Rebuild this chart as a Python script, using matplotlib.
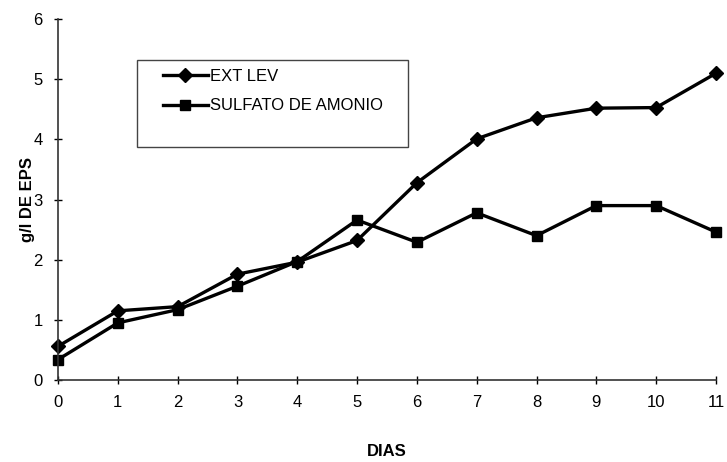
import numpy as np
import matplotlib
matplotlib.use('Agg')
import matplotlib.pyplot as plt
from matplotlib.patches import Rectangle

plt.rcParams['font.family'] = ['Liberation Sans', 'DejaVu Sans']

dias = [0, 1, 2, 3, 4, 5, 6, 7, 8, 9, 10, 11]
ext_lev = [0.56, 1.15, 1.22, 1.76, 1.96, 2.32, 3.28, 4.01, 4.36, 4.52, 4.53, 5.10]
sulfato = [0.34, 0.95, 1.17, 1.56, 1.97, 2.66, 2.29, 2.78, 2.40, 2.90, 2.90, 2.46]

fig = plt.figure(figsize=(7.27, 4.62), dpi=100)
ax = fig.add_axes([0.0798, 0.1775, 0.905, 0.781])

ax.plot(dias, ext_lev, color='black', linewidth=2.4, marker='D', markersize=7.5,
        label='EXT LEV', clip_on=False)
ax.plot(dias, sulfato, color='black', linewidth=2.4, marker='s', markersize=7.5,
        label='SULFATO DE AMONIO', clip_on=False)

ax.set_xlim(0, 11)
ax.set_ylim(0, 6)
ax.set_xticks(range(0, 12))
ax.set_yticks(range(0, 7))
ax.tick_params(direction='inout', length=6, width=1, labelsize=12, pad=8)
ax.spines['top'].set_visible(False)
ax.spines['right'].set_visible(False)
for s in ['left', 'bottom']:
    ax.spines[s].set_color('#333333')
    ax.spines[s].set_linewidth(1.2)

ax.set_xlabel('DIAS', fontsize=12, fontweight='bold', labelpad=24)
ax.set_ylabel('g/l DE EPS', fontsize=12, fontweight='bold', labelpad=-1)

# legend box drawn larger than its entries
ax.add_patch(Rectangle((0.1198, 0.645), 0.4124, 0.241, transform=ax.transAxes,
                       fill=False, edgecolor='#444444', linewidth=1))
ax.legend(loc='upper left', bbox_to_anchor=(0.159, 0.861), frameon=False,
          fontsize=12, handlelength=2.7, handletextpad=0.15, labelspacing=0.85,
          borderpad=0, borderaxespad=0)

fig.savefig('out.png', dpi=100)
